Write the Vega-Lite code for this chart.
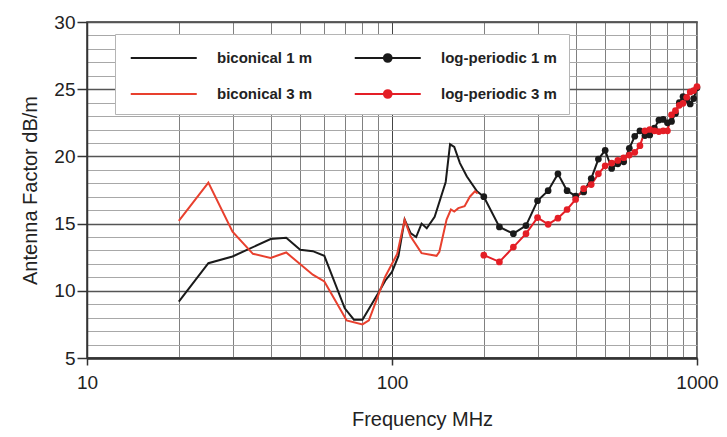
{
  "$schema": "https://vega.github.io/schema/vega-lite/v6.json",
  "width": 610,
  "height": 336,
  "autosize": {"type": "none"},
  "padding": {"left": 87, "top": 22, "right": 30, "bottom": 79},
  "background": "white",
  "config": {
    "font": "Liberation Sans",
    "view": {"stroke": "#333", "strokeWidth": 1.5},
    "axis": {"labelFont": "Liberation Sans", "titleFont": "Liberation Sans", "labelColor": "#222", "titleColor": "#222", "titleFontWeight": "normal", "labelFontSize": 19, "titleFontSize": 20}
  },
  "data": {
    "values": [
      {"series": "biconical 1 m", "f": 20, "v": 9.2},
      {"series": "biconical 1 m", "f": 25, "v": 12.05},
      {"series": "biconical 1 m", "f": 30, "v": 12.55},
      {"series": "biconical 1 m", "f": 40, "v": 13.85},
      {"series": "biconical 1 m", "f": 45, "v": 13.95},
      {"series": "biconical 1 m", "f": 50, "v": 13.05},
      {"series": "biconical 1 m", "f": 55, "v": 12.95},
      {"series": "biconical 1 m", "f": 60, "v": 12.6},
      {"series": "biconical 1 m", "f": 70, "v": 8.7},
      {"series": "biconical 1 m", "f": 75, "v": 7.85},
      {"series": "biconical 1 m", "f": 80, "v": 7.85},
      {"series": "biconical 1 m", "f": 90, "v": 9.8},
      {"series": "biconical 1 m", "f": 95, "v": 10.75},
      {"series": "biconical 1 m", "f": 100, "v": 11.4},
      {"series": "biconical 1 m", "f": 105, "v": 12.6},
      {"series": "biconical 1 m", "f": 110, "v": 15.3},
      {"series": "biconical 1 m", "f": 115, "v": 14.3},
      {"series": "biconical 1 m", "f": 120, "v": 14.0},
      {"series": "biconical 1 m", "f": 125, "v": 15.0},
      {"series": "biconical 1 m", "f": 130, "v": 14.65},
      {"series": "biconical 1 m", "f": 138, "v": 15.5},
      {"series": "biconical 1 m", "f": 150, "v": 18.1},
      {"series": "biconical 1 m", "f": 155, "v": 20.9},
      {"series": "biconical 1 m", "f": 160, "v": 20.7},
      {"series": "biconical 1 m", "f": 167, "v": 19.5},
      {"series": "biconical 1 m", "f": 176, "v": 18.5},
      {"series": "biconical 1 m", "f": 190, "v": 17.4},
      {"series": "biconical 1 m", "f": 200, "v": 17.0},
      {"series": "biconical 3 m", "f": 20, "v": 15.2},
      {"series": "biconical 3 m", "f": 25, "v": 18.05},
      {"series": "biconical 3 m", "f": 30, "v": 14.4},
      {"series": "biconical 3 m", "f": 35, "v": 12.75},
      {"series": "biconical 3 m", "f": 40, "v": 12.45},
      {"series": "biconical 3 m", "f": 45, "v": 12.85},
      {"series": "biconical 3 m", "f": 55, "v": 11.2},
      {"series": "biconical 3 m", "f": 60, "v": 10.7},
      {"series": "biconical 3 m", "f": 69, "v": 8.3},
      {"series": "biconical 3 m", "f": 71, "v": 7.8},
      {"series": "biconical 3 m", "f": 80, "v": 7.5},
      {"series": "biconical 3 m", "f": 84, "v": 7.8},
      {"series": "biconical 3 m", "f": 95, "v": 11.05},
      {"series": "biconical 3 m", "f": 104, "v": 12.75},
      {"series": "biconical 3 m", "f": 110, "v": 15.27},
      {"series": "biconical 3 m", "f": 115, "v": 14.05},
      {"series": "biconical 3 m", "f": 125, "v": 12.8},
      {"series": "biconical 3 m", "f": 140, "v": 12.6},
      {"series": "biconical 3 m", "f": 143, "v": 12.9},
      {"series": "biconical 3 m", "f": 151, "v": 15.3},
      {"series": "biconical 3 m", "f": 156, "v": 16.05},
      {"series": "biconical 3 m", "f": 160, "v": 15.9},
      {"series": "biconical 3 m", "f": 165, "v": 16.15},
      {"series": "biconical 3 m", "f": 173, "v": 16.3},
      {"series": "biconical 3 m", "f": 180, "v": 17.0},
      {"series": "biconical 3 m", "f": 187, "v": 17.4},
      {"series": "biconical 3 m", "f": 191, "v": 17.25},
      {"series": "log-periodic 1 m", "f": 200, "v": 17.0},
      {"series": "log-periodic 1 m", "f": 225, "v": 14.75},
      {"series": "log-periodic 1 m", "f": 250, "v": 14.25},
      {"series": "log-periodic 1 m", "f": 275, "v": 14.85},
      {"series": "log-periodic 1 m", "f": 300, "v": 16.7},
      {"series": "log-periodic 1 m", "f": 325, "v": 17.45},
      {"series": "log-periodic 1 m", "f": 350, "v": 18.7},
      {"series": "log-periodic 1 m", "f": 375, "v": 17.45},
      {"series": "log-periodic 1 m", "f": 400, "v": 17.05},
      {"series": "log-periodic 1 m", "f": 425, "v": 17.35},
      {"series": "log-periodic 1 m", "f": 450, "v": 18.35},
      {"series": "log-periodic 1 m", "f": 475, "v": 19.8},
      {"series": "log-periodic 1 m", "f": 500, "v": 20.45},
      {"series": "log-periodic 1 m", "f": 525, "v": 19.1},
      {"series": "log-periodic 1 m", "f": 550, "v": 19.45},
      {"series": "log-periodic 1 m", "f": 575, "v": 19.6},
      {"series": "log-periodic 1 m", "f": 600, "v": 20.6},
      {"series": "log-periodic 1 m", "f": 625, "v": 21.5},
      {"series": "log-periodic 1 m", "f": 650, "v": 21.9},
      {"series": "log-periodic 1 m", "f": 675, "v": 21.55},
      {"series": "log-periodic 1 m", "f": 700, "v": 21.6},
      {"series": "log-periodic 1 m", "f": 725, "v": 22.1},
      {"series": "log-periodic 1 m", "f": 750, "v": 22.7},
      {"series": "log-periodic 1 m", "f": 775, "v": 22.75},
      {"series": "log-periodic 1 m", "f": 800, "v": 22.5},
      {"series": "log-periodic 1 m", "f": 825, "v": 22.6},
      {"series": "log-periodic 1 m", "f": 850, "v": 23.2},
      {"series": "log-periodic 1 m", "f": 875, "v": 24.0},
      {"series": "log-periodic 1 m", "f": 900, "v": 24.45},
      {"series": "log-periodic 1 m", "f": 925, "v": 24.2},
      {"series": "log-periodic 1 m", "f": 950, "v": 23.9},
      {"series": "log-periodic 1 m", "f": 975, "v": 24.3},
      {"series": "log-periodic 1 m", "f": 1000, "v": 25.1},
      {"series": "log-periodic 3 m", "f": 200, "v": 12.65},
      {"series": "log-periodic 3 m", "f": 225, "v": 12.15},
      {"series": "log-periodic 3 m", "f": 250, "v": 13.25},
      {"series": "log-periodic 3 m", "f": 275, "v": 14.25},
      {"series": "log-periodic 3 m", "f": 300, "v": 15.45},
      {"series": "log-periodic 3 m", "f": 325, "v": 14.95},
      {"series": "log-periodic 3 m", "f": 350, "v": 15.4},
      {"series": "log-periodic 3 m", "f": 375, "v": 16.05},
      {"series": "log-periodic 3 m", "f": 400, "v": 16.8},
      {"series": "log-periodic 3 m", "f": 425, "v": 17.6},
      {"series": "log-periodic 3 m", "f": 450, "v": 17.9},
      {"series": "log-periodic 3 m", "f": 475, "v": 18.7},
      {"series": "log-periodic 3 m", "f": 500, "v": 19.3},
      {"series": "log-periodic 3 m", "f": 525, "v": 19.5},
      {"series": "log-periodic 3 m", "f": 550, "v": 19.7},
      {"series": "log-periodic 3 m", "f": 575, "v": 19.9},
      {"series": "log-periodic 3 m", "f": 600, "v": 20.1},
      {"series": "log-periodic 3 m", "f": 625, "v": 20.3},
      {"series": "log-periodic 3 m", "f": 650, "v": 20.8},
      {"series": "log-periodic 3 m", "f": 675, "v": 21.9},
      {"series": "log-periodic 3 m", "f": 700, "v": 22.0},
      {"series": "log-periodic 3 m", "f": 725, "v": 21.9},
      {"series": "log-periodic 3 m", "f": 750, "v": 21.85},
      {"series": "log-periodic 3 m", "f": 775, "v": 21.9},
      {"series": "log-periodic 3 m", "f": 800, "v": 21.9},
      {"series": "log-periodic 3 m", "f": 825, "v": 23.1},
      {"series": "log-periodic 3 m", "f": 850, "v": 23.4},
      {"series": "log-periodic 3 m", "f": 875, "v": 23.8},
      {"series": "log-periodic 3 m", "f": 900, "v": 23.95},
      {"series": "log-periodic 3 m", "f": 925, "v": 24.4},
      {"series": "log-periodic 3 m", "f": 950, "v": 24.8},
      {"series": "log-periodic 3 m", "f": 975, "v": 24.9},
      {"series": "log-periodic 3 m", "f": 1000, "v": 25.2}
    ]
  },
  "encoding": {
    "x": {
      "field": "f",
      "type": "quantitative",
      "scale": {"type": "log", "domain": [10, 1000], "nice": false},
      "axis": {
        "title": "Frequency MHz",
        "values": [10, 20, 30, 40, 50, 60, 70, 80, 90, 100, 200, 300, 400, 500, 600, 700, 800, 900, 1000],
        "format": "d",
        "labelExpr": "datum.value == 10 || datum.value == 100 || datum.value == 1000 ? datum.label : ''",
        "labelOverlap": false,
        "labelFlush": false,
        "labelPadding": 8,
        "tickSize": {"condition": {"test": "datum.value == 10 || datum.value == 100 || datum.value == 1000", "value": 7}, "value": 0},
        "tickColor": "#333",
        "tickWidth": 1.5,
        "domainColor": "#333",
        "domainWidth": 2.5,
        "grid": true,
        "gridColor": {"condition": {"test": "datum.value == 100", "value": "#444"}, "value": "#808080"},
        "gridWidth": 1,
        "gridOpacity": 1,
        "titleX": 335,
        "titleY": 67,
        "titleBaseline": "alphabetic",
        "titleAlign": "center"
      }
    },
    "y": {
      "field": "v",
      "type": "quantitative",
      "scale": {"domain": [5, 30], "nice": false, "zero": false},
      "axis": {
        "title": "Antenna Factor dB/m",
        "values": [5, 6, 7, 8, 9, 10, 11, 12, 13, 14, 15, 16, 17, 18, 19, 20, 21, 22, 23, 24, 25, 26, 27, 28, 29, 30],
        "labelExpr": "datum.value % 5 == 0 ? datum.label : ''",
        "labelOverlap": false,
        "labelFlush": false,
        "labelPadding": 2,
        "tickSize": {"condition": {"test": "datum.value % 5 == 0", "value": 10}, "value": 0},
        "tickColor": "#333",
        "tickWidth": 1.5,
        "domainColor": "#333",
        "domainWidth": 1.5,
        "grid": true,
        "gridColor": {"condition": {"test": "datum.value % 5 == 0", "value": "#555"}, "value": "#a8a8a8"},
        "gridWidth": {"condition": {"test": "datum.value % 5 == 0", "value": 1.5}, "value": 1},
        "gridOpacity": 1,
        "titleX": -57,
        "titleY": 168,
        "titleAngle": -90,
        "titleBaseline": "middle",
        "titleAlign": "center"
      }
    }
  },
  "layer": [
    {
      "mark": {"type": "line", "interpolate": "linear"},
      "encoding": {
        "color": {
          "field": "series",
          "type": "nominal",
          "scale": {
            "domain": ["biconical 1 m", "log-periodic 1 m", "biconical 3 m", "log-periodic 3 m"],
            "range": ["#1a1a1a", "#1a1a1a", "#e8402e", "#e41e26"]
          },
          "legend": {
            "title": null,
            "orient": "none",
            "legendX": 28,
            "legendY": 12,
            "direction": "horizontal",
            "columns": 2,
            "fillColor": "white",
            "strokeColor": "#b5b5b5",
            "padding": 12,
            "rowPadding": 16,
            "columnPadding": 37,
            "symbolType": "M-0.75,0H5.25",
            "symbolSize": 484,
            "symbolStrokeWidth": 2,
            "labelFont": "Liberation Sans",
            "labelFontSize": 15,
            "labelFontWeight": "bold",
            "labelColor": "#222",
            "labelOffset": 66,
            "labelLimit": 300,
            "encode": {
              "symbols": {
                "update": {
                  "shape": {"signal": "indexof(datum.value, 'log') >= 0 ? 'M-0.75,0H5.25M1.9,0A0.35,0.35 0 1,0 2.6,0A0.35,0.35 0 1,0 1.9,0' : 'M-0.75,0H5.25'"},
                  "fill": {"signal": "indexof(datum.value, 'log') >= 0 ? scale('color', datum.value) : 'transparent'"},
                  "stroke": {"signal": "scale('color', datum.value)"},
                  "opacity": {"value": 1}
                }
              }
            }
          }
        },
        "strokeWidth": {
          "field": "series",
          "type": "nominal",
          "scale": {
            "domain": ["biconical 1 m", "log-periodic 1 m", "biconical 3 m", "log-periodic 3 m"],
            "range": [2, 2, 1.6, 2]
          },
          "legend": null
        }
      }
    },
    {
      "transform": [{"filter": "indexof(datum.series, 'log') >= 0"}],
      "mark": {"type": "point", "filled": true, "size": 45, "opacity": 1},
      "encoding": {
        "color": {"field": "series", "type": "nominal"}
      }
    }
  ]
}
